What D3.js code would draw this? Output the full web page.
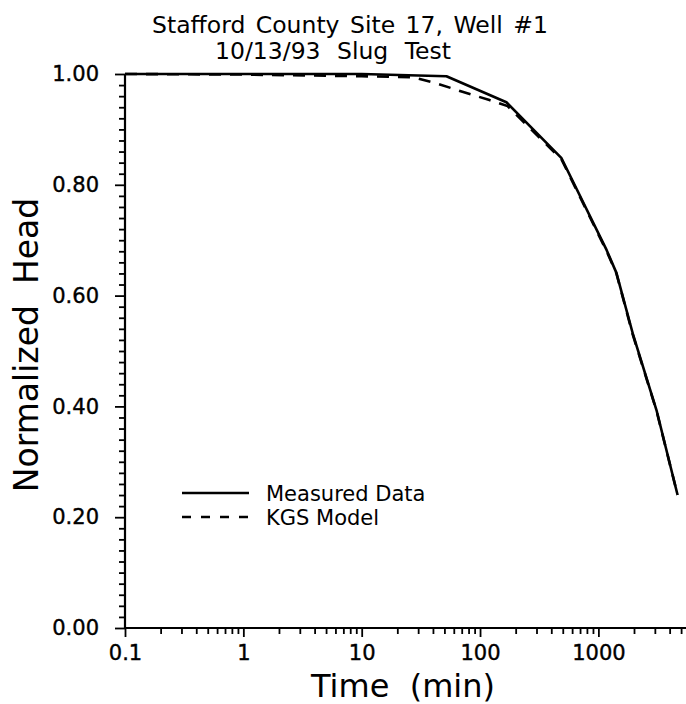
<!DOCTYPE html>
<html>
<head>
<meta charset="utf-8">
<script src="https://cdn.jsdelivr.net/npm/d3@7"></script>
<style>
  html, body { margin: 0; padding: 0; background: #fff; }
  svg { display: block; }
  text { font-family: "DejaVu Sans", sans-serif; fill: #000; }
</style>
</head>
<body>
<div id="chart"></div>
<script>
// ---- data ----
const titleLines = ["Stafford County Site 17, Well #1", "10/13/93 Slug Test"];
const xLabel = "Time  (min)";
const yLabel = "Normalized  Head";
const seriesNames = ["Measured Data", "KGS Model"];

const measuredTime = [0.1, 1, 10, 52, 167, 488, 1175, 1420, 1950, 3100, 4670];
const measuredHead = [1.00, 1.00, 1.00, 0.996, 0.949, 0.848, 0.682, 0.641, 0.532, 0.393, 0.240];

const modelTime = [0.1, 1, 10, 27, 43, 71, 120, 171, 488, 1175, 1420, 1950, 3100, 4670];
const modelHead = [1.00, 0.999, 0.996, 0.994, 0.983, 0.968, 0.953, 0.942, 0.846, 0.680, 0.640, 0.530, 0.392, 0.240];

const xMajorTicks = [0.1, 1, 10, 100, 1000];
const xTickLabels = ["0.1", "1", "10", "100", "1000"];
const yMajorTicks = [0, 0.2, 0.4, 0.6, 0.8, 1.0];
const yTickLabels = ["0.00", "0.20", "0.40", "0.60", "0.80", "1.00"];

// ---- layout ----
const W = 686, H = 704;
const svg = d3.select("#chart").append("svg").attr("width", W).attr("height", H);

const x = d3.scaleLog().domain([0.1, 5500]).range([125, 686]);
const y = d3.scaleLinear().domain([0, 1]).range([628, 74]);

// minor ticks
const xMinor = [];
[0.1, 1, 10, 100, 1000].forEach(d => { for (let k = 2; k <= 9; k++) { const v = d * k; if (v <= 5500) xMinor.push(v); } });
const yMinor = d3.range(1, 50).map(i => i * 0.02).filter(v => Math.abs(v * 5 - Math.round(v * 5)) > 1e-6);

// x axis
const gx = svg.append("g").attr("transform", `translate(0,${y(0)})`);
gx.call(d3.axisBottom(x).tickValues(xMajorTicks).tickSize(9).tickPadding(8)
  .tickFormat((d, i) => xTickLabels[i]));
const gxm = svg.append("g").attr("transform", `translate(0,${y(0)})`);
gxm.call(d3.axisBottom(x).tickValues(xMinor).tickSize(6).tickFormat(""));
gxm.select(".domain").remove();

// y axis
const gy = svg.append("g").attr("transform", `translate(${x(0.1)},0)`);
gy.call(d3.axisLeft(y).tickValues(yMajorTicks).tickSize(10).tickPadding(16)
  .tickFormat((d, i) => yTickLabels[i]));
const gym = svg.append("g").attr("transform", `translate(${x(0.1)},0)`);
gym.call(d3.axisLeft(y).tickValues(yMinor).tickSize(6).tickFormat(""));
gym.select(".domain").remove();

svg.selectAll(".domain").attr("stroke", "#000").attr("stroke-width", 2.2);
svg.selectAll(".tick line").attr("stroke", "#000").attr("stroke-width", 1.8);
svg.selectAll(".tick text").style("font-family", "'DejaVu Sans', sans-serif").style("font-size", "21px")
  .attr("fill", "#000").attr("stroke", "#000").attr("stroke-width", 0.4);

gx.select(".domain").attr("d", `M${x(0.1)},0H${x(5500)}`);
gy.select(".domain").attr("d", `M0,${y(0)}V${y(1)}`);

// lines
const measured = measuredTime.map((t, i) => ({ t, h: measuredHead[i] }));
const model = modelTime.map((t, i) => ({ t, h: modelHead[i] }));
const line = d3.line().x(d => x(d.t)).y(d => y(d.h));

svg.append("path").datum(model).attr("d", line)
  .attr("fill", "none").attr("stroke", "#000").attr("stroke-width", 2.6)
  .attr("stroke-dasharray", "12,9");
svg.append("path").datum(measured).attr("d", line)
  .attr("fill", "none").attr("stroke", "#000").attr("stroke-width", 2.6)
  .attr("stroke-linejoin", "round");

// legend
const legend = svg.append("g");
const legY = [493, 517];
const dashes = [null, "9,10"];
seriesNames.forEach((name, i) => {
  legend.append("line").attr("x1", 182).attr("x2", 249).attr("y1", legY[i]).attr("y2", legY[i])
    .attr("stroke", "#000").attr("stroke-width", 2.4)
    .attr("stroke-dasharray", dashes[i]);
  legend.append("text").attr("x", 266).attr("y", legY[i] + 8)
    .style("font-size", "21px").text(name);
});

// titles
svg.append("text").attr("x", 350).attr("y", 33).attr("text-anchor", "middle")
  .style("font-size", "23.5px").style("word-spacing", "3px").text(titleLines[0]);
svg.append("text").attr("x", 333).attr("y", 59).attr("text-anchor", "middle")
  .style("font-size", "23.5px").style("word-spacing", "9px").text(titleLines[1]);

svg.append("text").attr("x", 403).attr("y", 697).attr("text-anchor", "middle")
  .style("font-size", "32px").style("white-space", "pre").attr("xml:space", "preserve").text(xLabel);
svg.append("text").attr("transform", "translate(38,345) rotate(-90)").attr("text-anchor", "middle")
  .style("font-size", "33px").style("white-space", "pre").attr("xml:space", "preserve").text(yLabel);
</script>
</body>
</html>
